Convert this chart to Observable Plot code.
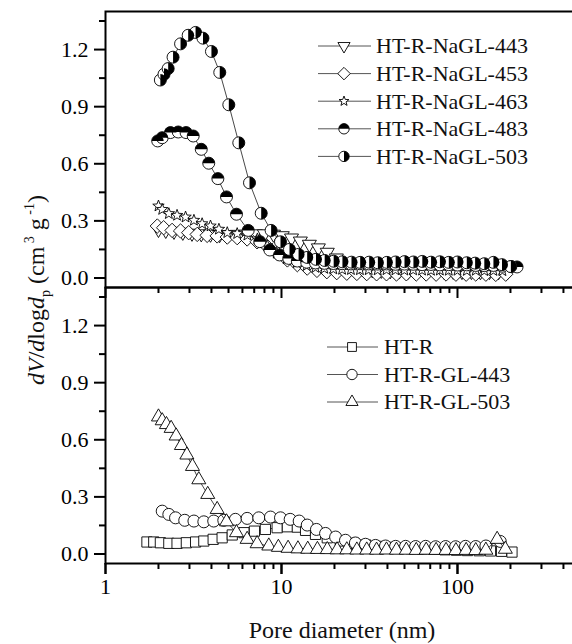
<!DOCTYPE html>
<html><head><meta charset="utf-8">
<script src="https://cdn.jsdelivr.net/npm/d3@7"></script>
<script src="https://cdn.jsdelivr.net/npm/@observablehq/plot@0.6"></script>
<style>
html,body{margin:0;padding:0;background:#fff;}
#wrap{position:relative;width:572px;height:644px;overflow:hidden;background:#fff;}
#wrap svg{position:absolute;left:0;top:0;}
#wrap svg text, #wrap svg tspan{font-family:'Liberation Serif' !important;}
</style></head><body><div id="wrap"></div>
<script>
// ---- data (pore diameter nm, dV/dlogd) ----
const x443 = [2.0, 2.2, 2.45, 2.75, 3.1, 3.5, 3.95, 4.45, 5.0, 5.6, 6.3, 7.1, 8.0, 9.0, 10.1, 11.4, 12.8, 14.4, 16.2, 18.2, 20.5, 23.0, 25.9, 29.1, 32.8, 36.9, 41.5, 46.7, 52.5, 59.1, 66.5, 74.8, 84.1, 94.6, 106, 120, 135, 152, 171, 192];
const y443 = [0.255, 0.25, 0.245, 0.24, 0.235, 0.232, 0.23, 0.228, 0.228, 0.229, 0.23, 0.232, 0.232, 0.23, 0.222, 0.21, 0.194, 0.177, 0.158, 0.135, 0.105, 0.08, 0.062, 0.05, 0.043, 0.04, 0.038, 0.037, 0.036, 0.036, 0.035, 0.035, 0.034, 0.035, 0.034, 0.034, 0.033, 0.034, 0.033, 0.032];
const x453 = [1.97, 2.14, 2.39, 2.67, 2.97, 3.32, 3.78, 4.31, 4.92, 5.6, 6.38, 7.27, 8.3, 9.45, 10.8, 12.3, 14.0, 15.9, 18.1, 20.6, 23.5, 26.8, 30.5, 34.7, 39.5, 45.0, 51.2, 58.3, 66.4, 75.6, 86.1, 98.0, 112, 127, 145, 165, 188];
const y453 = [0.273, 0.264, 0.25, 0.247, 0.238, 0.229, 0.224, 0.221, 0.215, 0.212, 0.205, 0.19, 0.165, 0.13, 0.095, 0.07, 0.052, 0.04, 0.033, 0.028, 0.025, 0.024, 0.023, 0.022, 0.022, 0.021, 0.022, 0.021, 0.021, 0.020, 0.021, 0.020, 0.020, 0.021, 0.020, 0.019, 0.020];
const x463 = [2.0, 2.1, 2.29, 2.55, 2.85, 3.18, 3.54, 3.95, 4.41, 4.92, 5.6, 6.4, 7.3, 8.3, 9.4, 10.7, 12.2, 13.9, 15.6, 17.5, 19.7, 22.1, 24.8, 27.9, 31.3, 35.2, 39.5, 44.4, 49.9, 56.0, 62.9, 70.7, 79.4, 89.2, 100, 113, 127, 142, 160, 180];
const y463 = [0.378, 0.36, 0.338, 0.329, 0.32, 0.303, 0.285, 0.273, 0.256, 0.238, 0.233, 0.225, 0.205, 0.17, 0.13, 0.10, 0.08, 0.065, 0.055, 0.05, 0.047, 0.045, 0.044, 0.043, 0.043, 0.042, 0.043, 0.042, 0.041, 0.042, 0.041, 0.040, 0.041, 0.040, 0.040, 0.039, 0.040, 0.038, 0.039, 0.038];
const x483 = [1.98, 2.10, 2.34, 2.59, 2.87, 3.15, 3.50, 3.86, 4.35, 4.87, 5.55, 6.47, 7.53, 8.59, 9.75, 11.0, 12.3, 13.9, 15.6, 17.5, 19.7, 22.1, 24.8, 27.9, 31.3, 35.2, 39.5, 44.4, 49.9, 56.0, 62.9, 70.7, 79.4, 89.2, 100, 113, 127, 142, 160, 180, 202, 218];
const y483 = [0.72, 0.737, 0.764, 0.767, 0.764, 0.746, 0.676, 0.603, 0.522, 0.426, 0.335, 0.25, 0.191, 0.147, 0.121, 0.103, 0.089, 0.083, 0.079, 0.077, 0.076, 0.075, 0.074, 0.075, 0.074, 0.073, 0.074, 0.072, 0.073, 0.072, 0.070, 0.071, 0.069, 0.070, 0.068, 0.069, 0.066, 0.065, 0.066, 0.062, 0.060, 0.058];
const x503 = [2.05, 2.15, 2.27, 2.42, 2.67, 2.95, 3.25, 3.58, 4.0, 4.46, 5.02, 5.72, 6.58, 7.67, 8.73, 9.87, 11.1, 12.5, 14.0, 15.7, 17.6, 19.8, 22.2, 25.0, 28.0, 31.5, 35.3, 39.7, 44.5, 50.0, 56.2, 63.1, 70.8, 79.5, 89.3, 100, 113, 126, 142, 160, 179, 201];
const y503 = [1.04, 1.07, 1.10, 1.16, 1.23, 1.275, 1.29, 1.26, 1.19, 1.08, 0.91, 0.71, 0.50, 0.34, 0.25, 0.19, 0.15, 0.124, 0.108, 0.098, 0.092, 0.088, 0.085, 0.083, 0.082, 0.083, 0.080, 0.082, 0.084, 0.086, 0.084, 0.087, 0.083, 0.085, 0.082, 0.084, 0.080, 0.078, 0.075, 0.082, 0.070, 0.060];

const xR = [1.72, 1.88, 2.05, 2.29, 2.55, 2.88, 3.25, 3.62, 4.09, 4.6, 5.25, 6.12, 7.02, 8.1, 9.45, 10.8, 12.3, 13.7, 15.6, 18.2, 21.6, 25.8, 30.1, 35.0, 40.5, 47.0, 54.5, 63.2, 73.3, 85.0, 98.6, 114, 133, 154, 178, 204];
const yR = [0.063, 0.063, 0.059, 0.056, 0.056, 0.059, 0.063, 0.068, 0.077, 0.085, 0.10, 0.112, 0.12, 0.129, 0.138, 0.143, 0.141, 0.124, 0.103, 0.085, 0.068, 0.056, 0.047, 0.040, 0.035, 0.031, 0.028, 0.026, 0.024, 0.022, 0.020, 0.018, 0.017, 0.016, 0.014, 0.010];
const xGL443 = [2.1, 2.29, 2.5, 2.82, 3.18, 3.62, 4.12, 4.7, 5.47, 6.38, 7.43, 8.66, 9.87, 11.2, 12.6, 14.0, 15.8, 17.8, 20.3, 23.1, 26.3, 30.0, 34.2, 39.0, 44.5, 50.7, 57.8, 65.9, 75.1, 85.6, 97.6, 111, 127, 145, 175];
const yGL443 = [0.225, 0.208, 0.19, 0.177, 0.173, 0.169, 0.173, 0.177, 0.182, 0.187, 0.19, 0.194, 0.19, 0.182, 0.173, 0.152, 0.129, 0.108, 0.089, 0.072, 0.058, 0.051, 0.045, 0.042, 0.040, 0.040, 0.039, 0.040, 0.038, 0.039, 0.038, 0.040, 0.039, 0.042, 0.066];
const xGL503 = [2.0, 2.1, 2.22, 2.36, 2.52, 2.7, 2.9, 3.12, 3.39, 3.81, 4.31, 4.87, 5.55, 6.38, 7.27, 8.47, 9.6, 10.9, 12.4, 14.1, 16.0, 18.2, 20.7, 23.5, 26.8, 30.5, 34.7, 39.5, 45.0, 51.2, 58.3, 66.4, 75.6, 86.1, 98, 112, 127, 145, 168, 187];
const yGL503 = [0.72, 0.70, 0.68, 0.66, 0.62, 0.57, 0.52, 0.46, 0.39, 0.313, 0.234, 0.169, 0.112, 0.077, 0.054, 0.042, 0.035, 0.030, 0.027, 0.025, 0.024, 0.023, 0.022, 0.022, 0.021, 0.021, 0.020, 0.021, 0.020, 0.020, 0.019, 0.020, 0.019, 0.019, 0.018, 0.019, 0.018, 0.020, 0.077, 0.025];

const topNames = ["HT-R-NaGL-443", "HT-R-NaGL-453", "HT-R-NaGL-463", "HT-R-NaGL-483", "HT-R-NaGL-503"];
const bottomNames = ["HT-R", "HT-R-GL-443", "HT-R-GL-503"];
const panels = ["top", "bottom"];
const yMajor = [0, 0.3, 0.6, 0.9, 1.2];
const yMinor = [0.15, 0.45, 0.75, 1.05, 1.35];
const xMajor = [1, 10, 100];
const xMinor = [2, 3, 4, 5, 6, 7, 8, 9, 20, 30, 40, 50, 60, 70, 80, 90, 200, 300, 400, 500];
const xTitle = "Pore diameter (nm)";

// ---- symbols ----
const sym = f => ({draw(c, size) { f(c, Math.sqrt(size / Math.PI)); }});
const symCircle = sym((c, r) => { c.moveTo(r, 0); c.arc(0, 0, r, 0, 2 * Math.PI); c.closePath(); });
const symHalfTop = sym((c, r) => { c.moveTo(r, 0); c.arc(0, 0, r, 0, Math.PI, true); c.closePath(); });
const symHalfRight = sym((c, r) => { c.moveTo(0, -r); c.arc(0, 0, r, -Math.PI / 2, Math.PI / 2); c.closePath(); });
const symTriDown = sym((c, r) => { const h = 1.17 * r; c.moveTo(-h, -0.67 * r); c.lineTo(h, -0.67 * r); c.lineTo(0, 1.35 * r); c.closePath(); });
const symTriUp = sym((c, r) => { const h = 1.17 * r; c.moveTo(-h, 0.67 * r); c.lineTo(h, 0.67 * r); c.lineTo(0, -1.35 * r); c.closePath(); });
const symDiamond = sym((c, r) => { const h = 1.2 * r; c.moveTo(0, -h); c.lineTo(h, 0); c.lineTo(0, h); c.lineTo(-h, 0); c.closePath(); });
const symSquare = sym((c, r) => { const h = 0.85 * r; c.moveTo(-h, -h); c.lineTo(h, -h); c.lineTo(h, h); c.lineTo(-h, h); c.closePath(); });
const symStar = sym((c, r) => {
  const R = 1.0 * r, ri = 0.42 * R;
  for (let i = 0; i < 10; i++) {
    const a = -Math.PI / 2 + i * Math.PI / 5, rr = i % 2 ? ri : R;
    const x = rr * Math.cos(a), y = rr * Math.sin(a);
    i ? c.lineTo(x, y) : c.moveTo(x, y);
  }
  c.closePath();
});

const rows = (panel, series, xs, ys) => xs.map((x, i) => ({panel, series, x, y: ys[i]}));
const seriesDefs = [
  {panel: "top", name: topNames[0], data: rows("top", topNames[0], x443, y443), symbol: symTriDown},
  {panel: "top", name: topNames[1], data: rows("top", topNames[1], x453, y453), symbol: symDiamond},
  {panel: "top", name: topNames[2], data: rows("top", topNames[2], x463, y463), symbol: symStar},
  {panel: "top", name: topNames[3], data: rows("top", topNames[3], x483, y483), symbol: symCircle, half: symHalfTop},
  {panel: "top", name: topNames[4], data: rows("top", topNames[4], x503, y503), symbol: symCircle, half: symHalfRight},
  {panel: "bottom", name: bottomNames[0], data: rows("bottom", bottomNames[0], xR, yR), symbol: symSquare},
  {panel: "bottom", name: bottomNames[1], data: rows("bottom", bottomNames[1], xGL443, yGL443), symbol: symCircle},
  {panel: "bottom", name: bottomNames[2], data: rows("bottom", bottomNames[2], xGL503, yGL503), symbol: symTriUp}
];

const R = 6;
const marks = [];
for (const s of seriesDefs) {
  marks.push(Plot.line(s.data, {x: "x", y: "y", fy: "panel", stroke: "#333", strokeWidth: 0.9}));
  marks.push(Plot.dot(s.data, {x: "x", y: "y", fy: "panel", r: R, symbol: s.symbol, fill: "white", stroke: "black", strokeWidth: 0.9}));
  if (s.half) marks.push(Plot.dot(s.data, {x: "x", y: "y", fy: "panel", r: R, symbol: s.half, fill: "black", stroke: "none"}));
}

const font = "Liberation Serif";
const chart = Plot.plot({
  width: 572,
  height: 644,
  marginLeft: 105,
  marginRight: -8,
  marginTop: 10,
  marginBottom: 81,
  style: {fontFamily: font, background: "white", color: "black", overflow: "visible"},
  x: {type: "log", domain: [1, 500], axis: null},
  y: {domain: [-0.05, 1.4], axis: null},
  fy: {domain: panels, padding: 0, axis: null},
  marks: [
    ...marks,
    Plot.frame({stroke: "black", strokeWidth: 2}),
    Plot.axisY(yMajor, {tickSize: 11, tickPadding: 6, tickFormat: d3.format(".1f"), label: null, fontSize: 22, fontFamily: font, strokeWidth: 2}),
    Plot.axisY(yMinor, {tickSize: 6, tickFormat: () => "", label: null, strokeWidth: 2}),
    Plot.axisX(xMajor, {tickSize: 11, tickFormat: () => "", label: null, strokeWidth: 2, facetAnchor: null}),
    Plot.axisX(xMinor, {tickSize: 6, tickFormat: () => "", label: null, strokeWidth: 2, facetAnchor: null}),
    Plot.axisX(xMajor, {tickSize: 11, tickPadding: 4, tickFormat: d => String(d), label: null, fontSize: 22, fontFamily: font, strokeWidth: 2})
  ]
});
document.getElementById("wrap").appendChild(chart);
d3.select(chart).selectAll("text").attr("font-family", font);

// ---- overlay: legends and axis titles ----
const ov = d3.select("#wrap").append("svg").attr("width", 572).attr("height", 644)
  .style("pointer-events", "none").attr("font-family", font);

function legend(defs, x0, x1, mx, tx, y0, dy) {
  defs.forEach((s, i) => {
    const y = y0 + i * dy;
    ov.append("line").attr("x1", x0).attr("x2", x1).attr("y1", y).attr("y2", y).attr("stroke", "#555").attr("stroke-width", 1);
    const sz = Math.PI * 5.2 * 5.2;
    ov.append("path").attr("transform", `translate(${mx},${y})`).attr("d", d3.symbol(s.symbol, sz)())
      .attr("fill", "white").attr("stroke", "black").attr("stroke-width", 0.9);
    if (s.half) ov.append("path").attr("transform", `translate(${mx},${y})`).attr("d", d3.symbol(s.half, sz)()).attr("fill", "black");
    ov.append("text").attr("x", tx).attr("y", y).attr("dy", "0.34em").attr("font-family", font).attr("font-size", 22).attr("fill", "#111").text(s.name);
  });
}
legend(seriesDefs.filter(s => s.panel === "top"), 318, 371, 344, 376, 46, 27.6);
legend(seriesDefs.filter(s => s.panel === "bottom"), 327, 378, 352, 384, 347, 27.5);

ov.append("text").attr("x", 342).attr("y", 638).attr("text-anchor", "middle").attr("font-family", font).attr("font-size", 24).attr("fill", "#111").text(xTitle);

const yt = ov.append("text").attr("transform", "translate(44,290) rotate(-90)").attr("text-anchor", "middle")
  .attr("font-family", font).attr("font-size", 24).attr("fill", "#111");
yt.append("tspan").attr("font-style", "italic").text("dV");
yt.append("tspan").text("/");
yt.append("tspan").attr("font-style", "italic").text("d");
yt.append("tspan").text("log");
yt.append("tspan").attr("font-style", "italic").text("d");
yt.append("tspan").attr("font-size", 14).attr("dy", 6).text("p");
yt.append("tspan").attr("dy", -6).text(" (cm");
yt.append("tspan").attr("font-size", 14).attr("dy", -10).text(" 3");
yt.append("tspan").attr("dy", 10).text(" g");
yt.append("tspan").attr("font-size", 14).attr("dy", -10).text(" -1");
yt.append("tspan").attr("dy", 10).text(")");
</script></body></html>
